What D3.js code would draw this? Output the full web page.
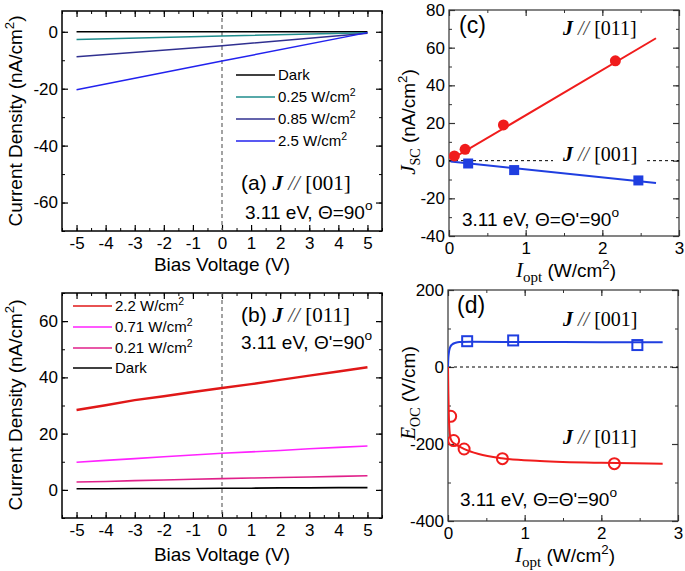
<!DOCTYPE html>
<html>
<head>
<meta charset="utf-8">
<script src="https://cdn.jsdelivr.net/npm/d3@7"></script>
<style>
  body { margin: 0; background: #fff; }
  svg { display: block; }
  text { font-family: "Liberation Sans", Arial, sans-serif; fill: #000; }
</style>
</head>
<body>
<svg id="fig" width="685" height="571"></svg>
<script>
// ---- panel (a): J // [001], I-V curves
const biasA = [-5, 0, 5];
const aSeries = ['Dark', '0.25', '0.85', '2.5 '];
const aDark = [0, 0, 0];
const a025 = [-2.7, -1.5, -0.3];
const a085 = [-8.8, -4.9, -0.5];
const a25 = [-20.4, -10.3, -0.3];
const aColors = ['#000000', '#1f8c8c', '#303090', '#2222ee'];

// ---- panel (b): J // [011], I-V curves
const biasB = [-5, -4, -3, -2, -1, 0, 1, 2, 3, 4, 5];
const bSeries = ['2.2', '0.71 ', '0.21 ', 'Dark'];
const b22 = [28.4, 30.1, 31.9, 33.3, 34.8, 36.2, 37.6, 39.1, 40.6, 42.1, 43.6];
const b071 = [9.8, 10.5, 11.1, 11.8, 12.4, 13.0, 13.5, 14.0, 14.6, 15.1, 15.6];
const b021 = [2.8, 3.0, 3.3, 3.5, 3.8, 4.0, 4.2, 4.4, 4.6, 4.8, 5.0];
const bDark = [0.4, 0.4, 0.5, 0.5, 0.5, 0.6, 0.6, 0.7, 0.7, 0.8, 0.8];
const bColors = ['#e01818', '#ff22ff', '#e0208a', '#000000'];

// ---- panel (c): short-circuit current vs intensity
const cI011 = [0.07, 0.21, 0.71, 2.17];
const cJ011 = [2.5, 6, 19, 53];
const cI001 = [0.25, 0.85, 2.47];
const cJ001 = [-1.5, -5, -10.5];
const cFitX = [0.02, 2.7];
const cFit011 = [0.5, 65];
const cFit001 = [-0.5, -11.8];

// ---- panel (d): open-circuit field vs intensity
const dI001 = [0.25, 0.85, 2.47];
const dE001 = [67, 69, 57];
const dI011 = [0.035, 0.074, 0.21, 0.71, 2.17];
const dE011 = [-128, -191, -213, -238, -251];
const dFit001X = [0, 0.005, 0.01, 0.022, 0.05, 0.1, 0.15, 0.3, 1, 2, 2.8];
const dFit001 = [0, 25, 35, 48, 58, 63, 65, 65.5, 65, 64.5, 64];
const dFit011X = [0, 0.005, 0.01, 0.02, 0.03, 0.05, 0.1, 0.2, 0.4, 0.7, 1.2, 2, 2.8];
const dFit011 = [0, -70, -120, -165, -182, -193, -201, -212, -226, -237, -244, -249, -251];

const RED = '#f01c1c', BLUE = '#1f3ee0';

const svg = d3.select('#fig');
const serif = '"Liberation Serif", "Times New Roman", serif';

// box + inward ticks on all four sides, labels only bottom/left
function drawFrame(p) {
  const g = svg.append('g').attr('transform', `translate(${p.left},${p.top})`);
  const w = p.right - p.left, h = p.bottom - p.top;
  const x = d3.scaleLinear().domain(p.xd).range([0, w]);
  const y = d3.scaleLinear().domain(p.yd).range([h, 0]);

  const sides = [
    [d3.axisBottom, x, `translate(0,${h})`, true, p.xt, p.xm],
    [d3.axisTop, x, 'translate(0,0)', false, p.xt, p.xm],
    [d3.axisLeft, y, 'translate(0,0)', true, p.yt, p.ym],
    [d3.axisRight, y, `translate(${w},0)`, false, p.yt, p.ym]
  ];
  sides.forEach(([mk, sc, tr, lab, major, minor]) => {
    // minor ticks
    const gm = g.append('g').attr('transform', tr)
      .call(mk(sc).tickValues(minor).tickSize(-3).tickFormat(''));
    gm.select('.domain').remove();
    gm.selectAll('line').attr('stroke', p.stroke);
    // major ticks
    const ga = g.append('g').attr('transform', tr)
      .call(mk(sc).tickValues(major).tickSize(-6).tickPadding(sc === x ? 6 : 4)
        .tickFormat(d => lab ? String(d) : ''));
    ga.select('.domain').remove();
    ga.selectAll('line').attr('stroke', p.stroke).attr('stroke-width', 1.2);
    ga.selectAll('text').attr('font-size', 17).attr('fill', '#000')
      .attr('font-family', '"Liberation Sans", Arial, sans-serif');
  });
  g.append('rect').attr('width', w).attr('height', h)
    .attr('fill', 'none').attr('stroke', p.stroke).attr('stroke-width', p.sw);
  g.append('clipPath').attr('id', p.id).append('rect').attr('width', w).attr('height', h);
  const plot = g.append('g').attr('clip-path', `url(#${p.id})`);
  return { g, plot, x, y, w, h };
}

const range = (a, b, s) => d3.range(a, b + s / 2, s);

// ================= panel (a)
const A = drawFrame({ id: 'ca', left: 62, right: 382, top: 11, bottom: 231,
  xd: [-5.5, 5.5], yd: [-70, 7.3], xt: range(-5, 5, 1), xm: range(-5.5, 5.5, 0.5),
  yt: range(-60, 0, 20), ym: range(-70, 0, 10), stroke: '#000', sw: 1.5 });

A.plot.append('line').attr('x1', A.x(0)).attr('x2', A.x(0)).attr('y1', 0).attr('y2', A.h)
  .attr('stroke', '#666').attr('stroke-width', 1.2).attr('stroke-dasharray', '4,3');

const lineA = d3.line().x((d, i) => A.x(biasA[i])).y(d => A.y(d));
[aDark, a025, a085, a25].forEach((s, k) => {
  A.plot.append('path').attr('d', lineA(s)).attr('fill', 'none')
    .attr('stroke', aColors[k]).attr('stroke-width', 1.5);
});

// ================= panel (b)
const B = drawFrame({ id: 'cb', left: 62, right: 382, top: 293, bottom: 518,
  xd: [-5.5, 5.5], yd: [-10, 70], xt: range(-5, 5, 1), xm: range(-5.5, 5.5, 0.5),
  yt: range(0, 60, 20), ym: range(-10, 70, 10), stroke: '#000', sw: 1.5 });

B.plot.append('line').attr('x1', B.x(0)).attr('x2', B.x(0)).attr('y1', 0).attr('y2', B.h)
  .attr('stroke', '#666').attr('stroke-width', 1.2).attr('stroke-dasharray', '4,3');

const lineB = d3.line().x((d, i) => B.x(biasB[i])).y(d => B.y(d));
[b22, b071, b021, bDark].forEach((s, k) => {
  B.plot.append('path').attr('d', lineB(s)).attr('fill', 'none')
    .attr('stroke', bColors[k]).attr('stroke-width', k == 0 ? 2.4 : 1.6);
});

// ================= panel (c)
const C = drawFrame({ id: 'cc', left: 449, right: 679, top: 10, bottom: 236,
  xd: [0, 3], yd: [-40, 80], xt: range(0, 3, 1), xm: range(0, 3, 0.5),
  yt: range(-40, 80, 20), ym: range(-40, 80, 10), stroke: '#333', sw: 1.2 });

C.plot.append('line').attr('x1', 0).attr('x2', C.w).attr('y1', C.y(0)).attr('y2', C.y(0))
  .attr('stroke', '#000').attr('stroke-width', 1).attr('stroke-dasharray', '3,3');

const lineC = d3.line().x((d, i) => C.x(cFitX[i])).y(d => C.y(d));
C.plot.append('path').attr('d', lineC(cFit011)).attr('fill', 'none').attr('stroke', RED).attr('stroke-width', 2);
C.plot.append('path').attr('d', lineC(cFit001)).attr('fill', 'none').attr('stroke', BLUE).attr('stroke-width', 2);

C.plot.selectAll('circle.p').data(cJ011).enter().append('circle')
  .attr('cx', (d, i) => C.x(cI011[i])).attr('cy', d => C.y(d)).attr('r', 5.5).attr('fill', RED);
C.plot.selectAll('rect.p').data(cJ001).enter().append('rect')
  .attr('x', (d, i) => C.x(cI001[i]) - 5).attr('y', d => C.y(d) - 5)
  .attr('width', 10).attr('height', 10).attr('fill', BLUE);

// ================= panel (d)
const D = drawFrame({ id: 'cd', left: 448, right: 678, top: 290, bottom: 521,
  xd: [0, 3], yd: [-400, 200], xt: range(0, 3, 1), xm: range(0, 3, 0.5),
  yt: range(-400, 200, 200), ym: range(-400, 200, 100), stroke: '#333', sw: 1.2 });

D.plot.append('line').attr('x1', 0).attr('x2', D.w).attr('y1', D.y(0)).attr('y2', D.y(0))
  .attr('stroke', '#000').attr('stroke-width', 1).attr('stroke-dasharray', '3,3');

const curve001 = d3.line().curve(d3.curveMonotoneX).x((d, i) => D.x(dFit001X[i])).y(d => D.y(d));
const curve011 = d3.line().curve(d3.curveMonotoneX).x((d, i) => D.x(dFit011X[i])).y(d => D.y(d));
D.plot.append('path').attr('d', curve001(dFit001)).attr('fill', 'none').attr('stroke', BLUE).attr('stroke-width', 2);
D.plot.append('path').attr('d', curve011(dFit011)).attr('fill', 'none').attr('stroke', RED).attr('stroke-width', 2);

D.plot.selectAll('rect.p').data(dE001).enter().append('rect')
  .attr('x', (d, i) => D.x(dI001[i]) - 5).attr('y', d => D.y(d) - 5)
  .attr('width', 10).attr('height', 10).attr('fill', 'none').attr('stroke', BLUE).attr('stroke-width', 2);
D.plot.selectAll('circle.p').data(dE011).enter().append('circle')
  .attr('cx', (d, i) => D.x(dI011[i])).attr('cy', d => D.y(d)).attr('r', 5.5)
  .attr('fill', 'none').attr('stroke', RED).attr('stroke-width', 2);

// ================= text
function sup(t, s, size) {
  t.append('tspan').attr('dy', -size * 0.4).attr('font-size', size * 0.7).text(s);
  return t.append('tspan').attr('dy', size * 0.4).attr('font-size', size);
}

// legends
function legend(items, colors, x0, x1, ys, size) {
  items.forEach((lab, k) => {
    svg.append('line').attr('x1', x0).attr('x2', x1).attr('y1', ys[k]).attr('y2', ys[k])
      .attr('stroke', colors[k]).attr('stroke-width', 1.6);
    const t = svg.append('text').attr('x', x1 + 3).attr('y', ys[k]).attr('dy', '0.35em')
      .attr('font-size', size);
    if (lab == 'Dark') t.text('Dark');
    else { t.append('tspan').text(lab + ' W/cm'); sup(t, '2', size).text(''); }
  });
}
legend(aSeries, aColors, 236, 275, [75, 97, 119, 141], 15);
legend(bSeries, bColors, 73, 112, [306, 327, 348, 368], 15);

// "J // [hkl]" labels, optionally prefixed
function jLabel(x, y, prefix, hkl, size, bg) {
  const t = svg.append('text').attr('x', x).attr('y', y).attr('font-size', size);
  if (prefix) t.append('tspan').text(prefix + ' ');
  t.append('tspan').attr('font-family', serif).attr('font-weight', 'bold').attr('font-style', 'italic').text('J');
  t.append('tspan').attr('font-family', serif).attr('font-style', 'italic').attr('fill', '#444').text(' // ');
  t.append('tspan').attr('font-family', serif).text('[' + hkl + ']');
  if (bg) {
    const bb = t.node().getBBox();
    svg.insert('rect', () => t.node()).attr('x', bb.x - 9).attr('y', bb.y)
      .attr('width', bb.width + 18).attr('height', bb.height).attr('fill', '#fff');
  }
  return t;
}
jLabel(241, 190, '(a)', '001', 21);
jLabel(241, 322, '(b)', '011', 21);
jLabel(563, 35, null, '011', 20);
jLabel(563, 161, null, '001', 20, true);
jLabel(563, 326, null, '001', 20);
jLabel(563, 444, null, '011', 20);

svg.append('text').attr('x', 459).attr('y', 33).attr('font-size', 23).text('(c)');
svg.append('text').attr('x', 457).attr('y', 313).attr('font-size', 23).text('(d)');

function cond(x, y, s, size) {
  const t = svg.append('text').attr('x', x).attr('y', y).attr('font-size', size);
  t.append('tspan').text(s);
  t.append('tspan').attr('dy', -size * 0.45).attr('font-size', size * 0.72).text('o');
}
cond(245, 219, '3.11 eV, \u0398=90', 19);
cond(241, 349, '3.11 eV, \u0398\'=90', 19);
cond(462, 226, '3.11 eV, \u0398=\u0398\'=90', 19);
cond(460, 506, '3.11 eV, \u0398=\u0398\'=90', 19);

// axis titles
function yTitle(cx, cy, size) {
  const t = svg.append('text').attr('transform', `translate(${cx},${cy}) rotate(-90)`)
    .attr('text-anchor', 'middle').attr('font-size', size);
  t.append('tspan').text('Current Density (nA/cm');
  sup(t, '2', size).text(')');
}
yTitle(22, 121, 19);
yTitle(22, 405, 19);

svg.append('text').attr('x', 222).attr('y', 271).attr('text-anchor', 'middle').attr('font-size', 19).text('Bias Voltage (V)');
svg.append('text').attr('x', 222).attr('y', 561).attr('text-anchor', 'middle').attr('font-size', 19).text('Bias Voltage (V)');

function iTitle(cx, y) {
  const t = svg.append('text').attr('x', cx).attr('y', y).attr('text-anchor', 'middle').attr('font-size', 19);
  t.append('tspan').attr('font-family', serif).attr('font-style', 'italic').attr('font-size', 21).text('I');
  t.append('tspan').attr('font-family', serif).attr('font-size', 15).attr('dy', 5).text('opt');
  t.append('tspan').attr('dy', -5).text(' (W/cm');
  sup(t, '2', 19).text(')');
}
iTitle(566, 277);
iTitle(565, 562);

function subTitle(cx, cy, main, sub, unit, supTxt) {
  const t = svg.append('text').attr('transform', `translate(${cx},${cy}) rotate(-90)`)
    .attr('text-anchor', 'middle').attr('font-size', 19);
  t.append('tspan').attr('font-family', serif).attr('font-style', 'italic').attr('font-size', 21).text(main);
  t.append('tspan').attr('font-family', serif).attr('font-size', 14).attr('dy', 5).text(sub);
  t.append('tspan').attr('dy', -5).text(unit);
  if (supTxt) sup(t, supTxt, 19).text(')');
}
subTitle(415, 122, 'J', 'SC', ' (nA/cm', '2');
subTitle(415, 393, 'E', 'OC', ' (V/cm)', null);
</script>
</body>
</html>
